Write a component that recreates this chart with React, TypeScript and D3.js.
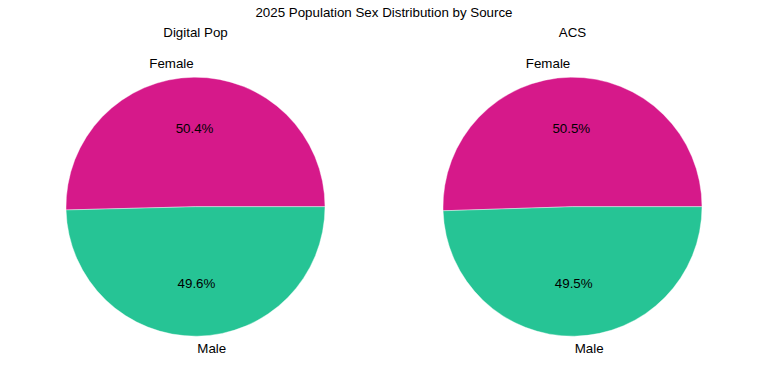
import React from "react";
import * as d3 from "d3";

const categories = ["Female", "Male"];
const sources = ["Digital Pop", "ACS"];
const digitalPop = [50.4, 49.6];
const acs = [50.5, 49.5];
const seriesValues = [digitalPop, acs];
const colors = ["#d6198a", "#26c495"];

const W = 768;
const H = 384;
const centersX = [195.5, 572.5];
const cy = 206.7;
const R = 129.5;
const FS = 13.33;
const font = "'Liberation Sans', Arial, sans-serif";

function Pie({ values, cx, title }: { values: number[]; cx: number; title: string }) {
  const total = d3.sum(values);
  const arc = d3.arc<any>().innerRadius(0).outerRadius(R);
  let theta = 0; // degrees, CCW from 3 o'clock (matplotlib convention)
  const parts = values.map((v, i) => {
    const t0 = theta;
    const t1 = theta + (v / total) * 360;
    theta = t1;
    const mid = ((t0 + t1) / 2) * Math.PI / 180;
    const d = arc({
      startAngle: Math.PI / 2 - (t0 * Math.PI) / 180,
      endAngle: Math.PI / 2 - (t1 * Math.PI) / 180,
    }) as string;
    const lx = 1.1 * R * Math.cos(mid);
    const ly = -1.1 * R * Math.sin(mid);
    const px = 0.6 * R * Math.cos(mid);
    const py = -0.6 * R * Math.sin(mid);
    return { d, lx, ly, px, py, i, v };
  });
  return (
    <g>
      <text x={cx} y={37} textAnchor="middle" fontSize={FS} fontFamily={font} fill="#000">
        {title}
      </text>
      <g transform={`translate(${cx},${cy})`}>
        {parts.map((p) => (
          <path key={p.i} d={p.d} fill={colors[p.i]} stroke="#ffffff" strokeWidth={0.4} />
        ))}
        {parts.map((p) => (
          <text
            key={"l" + p.i}
            x={p.lx}
            y={p.ly - 0.8}
            textAnchor={p.lx < 0 ? "end" : "start"}
            dominantBaseline="central"
            fontSize={FS}
            fontFamily={font}
            fill="#000"
          >
            {categories[p.i]}
          </text>
        ))}
        {parts.map((p) => (
          <text
            key={"p" + p.i}
            x={p.px}
            y={p.py - 0.8}
            textAnchor="middle"
            dominantBaseline="central"
            fontSize={FS}
            fontFamily={font}
            fill="#000"
          >
            {((p.v / total) * 100).toFixed(1) + "%"}
          </text>
        ))}
      </g>
    </g>
  );
}

export default function App() {
  return (
    <svg width={W} height={H} style={{ position: "absolute", left: 0, top: 0, background: "#fff" }}>
      <rect x={0} y={0} width={W} height={H} fill="#fff" />
      <text x={384} y={17} textAnchor="middle" fontSize={FS} fontFamily={font} fill="#000">
        2025 Population Sex Distribution by Source
      </text>
      {sources.map((s, k) => (
        <Pie key={s} values={seriesValues[k]} cx={centersX[k]} title={s} />
      ))}
    </svg>
  );
}
